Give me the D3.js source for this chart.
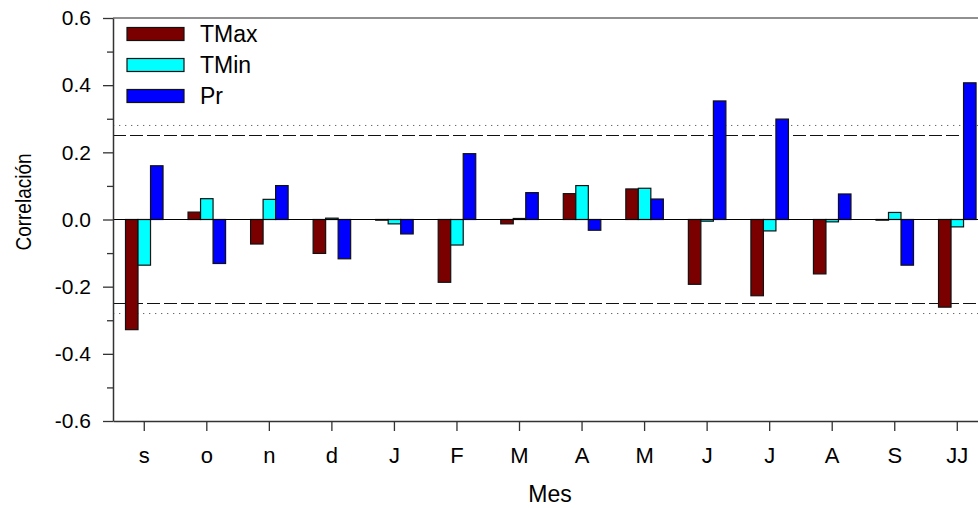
<!DOCTYPE html>
<html>
<head>
<meta charset="utf-8">
<script src="https://cdn.jsdelivr.net/npm/d3@7"></script>
<style>
  html, body { margin: 0; padding: 0; background: #fff; }
  svg { display: block; font-family: "Liberation Sans", Arial, sans-serif; }
</style>
</head>
<body>
<svg id="chart" width="978" height="508"></svg>
<script>
// Monthly correlation of tree-ring index with climate variables
const months = ["s", "o", "n", "d", "J", "F", "M", "A", "M", "J", "J", "A", "S", "JJ"];
const seriesNames = ["TMax", "TMin", "Pr"];
const tmax = [-0.328, 0.022, -0.073, -0.101, -0.002, -0.187, -0.013, 0.077, 0.091, -0.193, -0.227, -0.162, -0.002, -0.261];
const tmin = [-0.136, 0.062, 0.060, 0.004, -0.013, -0.076, 0.003, 0.101, 0.093, -0.005, -0.034, -0.007, 0.021, -0.022];
const pr   = [0.160, -0.131, 0.101, -0.117, -0.043, 0.196, 0.080, -0.032, 0.061, 0.353, 0.299, 0.076, -0.136, 0.407];
const yTicks = [-0.6, -0.4, -0.2, 0.0, 0.2, 0.4, 0.6];
const yMinorTicks = [-0.5, -0.3, -0.1, 0.1, 0.3, 0.5];
const thresholds95 = [0.25, -0.25];
const thresholds99 = [0.28, -0.28];
const colors = ["#7a0000", "#00ffff", "#0000ff"];

const values = [tmax, tmin, pr];
const svg = d3.select("#chart");

const plotLeft = 113, plotTop = 18, plotBottom = 421;
const step = 62.54;
const plotRight = plotLeft + step * months.length;

const x = d3.scaleBand()
  .domain(d3.range(months.length))
  .range([plotLeft, plotRight])
  .padding(0);

const xs = d3.scaleBand()
  .domain(seriesNames)
  .range([x.bandwidth() * 0.2, x.bandwidth() * 0.8])
  .padding(0);

const y = d3.scaleLinear().domain([-0.6, 0.6]).range([plotBottom, plotTop]);

// Reference lines for significance levels
svg.append("g").selectAll("line")
  .data(thresholds95).join("line")
  .attr("x1", plotLeft).attr("x2", plotRight)
  .attr("y1", d => y(d)).attr("y2", d => y(d))
  .attr("stroke", "#111").attr("stroke-width", 1.1)
  .attr("stroke-dasharray", "13,4");

svg.append("g").selectAll("line")
  .data(thresholds99).join("line")
  .attr("x1", plotLeft).attr("x2", plotRight)
  .attr("y1", d => y(d)).attr("y2", d => y(d))
  .attr("stroke", "#666").attr("stroke-width", 1)
  .attr("stroke-dasharray", "1.3,4.7");

// Bars
const groups = svg.append("g").selectAll("g")
  .data(seriesNames).join("g")
  .attr("fill", (d, i) => colors[i]);

groups.each(function(name, si) {
  d3.select(this).selectAll("rect")
    .data(values[si]).join("rect")
    .attr("x", (v, i) => x(i) + xs(name))
    .attr("width", xs.bandwidth())
    .attr("y", v => y(Math.max(0, v)))
    .attr("height", v => Math.abs(y(v) - y(0)))
    .attr("stroke", "#111")
    .attr("stroke-width", 1.2);
});

// Zero line
svg.append("line")
  .attr("x1", plotLeft).attr("x2", plotRight)
  .attr("y1", y(0)).attr("y2", y(0))
  .attr("stroke", "#000").attr("stroke-width", 1.2);

// Top frame line
svg.append("line")
  .attr("x1", plotLeft).attr("x2", plotRight)
  .attr("y1", plotTop).attr("y2", plotTop)
  .attr("stroke", "#222").attr("stroke-width", 1.2);

// Y axis
const yAxis = d3.axisLeft(y)
  .tickValues(yTicks)
  .tickFormat(d => d.toFixed(1))
  .tickSize(10)
  .tickSizeOuter(0)
  .tickPadding(12);

const gy = svg.append("g")
  .attr("transform", `translate(${plotLeft},0)`)
  .call(yAxis);
gy.select(".domain").attr("stroke", "#333").attr("stroke-width", 1.5);
gy.selectAll(".tick line").attr("stroke", "#333").attr("stroke-width", 1.3);
gy.selectAll(".tick text")
  .attr("font-size", 21)
  .attr("font-family", "Liberation Sans, Arial, sans-serif")
  .attr("fill", "#000");

const gyMinor = svg.append("g")
  .attr("transform", `translate(${plotLeft},0)`)
  .call(d3.axisLeft(y).tickValues(yMinorTicks).tickSize(6).tickFormat(""));
gyMinor.select(".domain").remove();
gyMinor.selectAll(".tick line").attr("stroke", "#333").attr("stroke-width", 1.3);

// X axis
const xAxis = d3.axisBottom(x)
  .tickFormat(i => months[i])
  .tickSize(10)
  .tickSizeOuter(0)
  .tickPadding(16);

const gx = svg.append("g")
  .attr("transform", `translate(0,${plotBottom})`)
  .call(xAxis);
gx.select(".domain").attr("stroke", "#333").attr("stroke-width", 1.5);
gx.selectAll(".tick line").attr("stroke", "#333").attr("stroke-width", 1.3);
gx.selectAll(".tick text")
  .attr("font-size", 22)
  .attr("font-family", "Liberation Sans, Arial, sans-serif")
  .attr("fill", "#000");

// Axis titles
svg.append("text")
  .attr("x", 550)
  .attr("y", 502)
  .attr("text-anchor", "middle")
  .attr("font-size", 23)
  .text("Mes");

svg.append("text")
  .attr("transform", "translate(31,202) rotate(-90) scale(1,1.15)")
  .attr("text-anchor", "middle")
  .attr("font-size", 19)
  .text("Correlación");

// Legend
const legend = svg.append("g").selectAll("g")
  .data(seriesNames).join("g")
  .attr("transform", (d, i) => `translate(127,${27.5 + i * 31})`);
legend.append("rect")
  .attr("width", 57).attr("height", 13)
  .attr("fill", (d, i) => colors[i])
  .attr("stroke", "#111").attr("stroke-width", 1.2);
legend.append("text")
  .attr("x", 73).attr("y", 14)
  .attr("font-size", 23)
  .text(d => d);
</script>
</body>
</html>
